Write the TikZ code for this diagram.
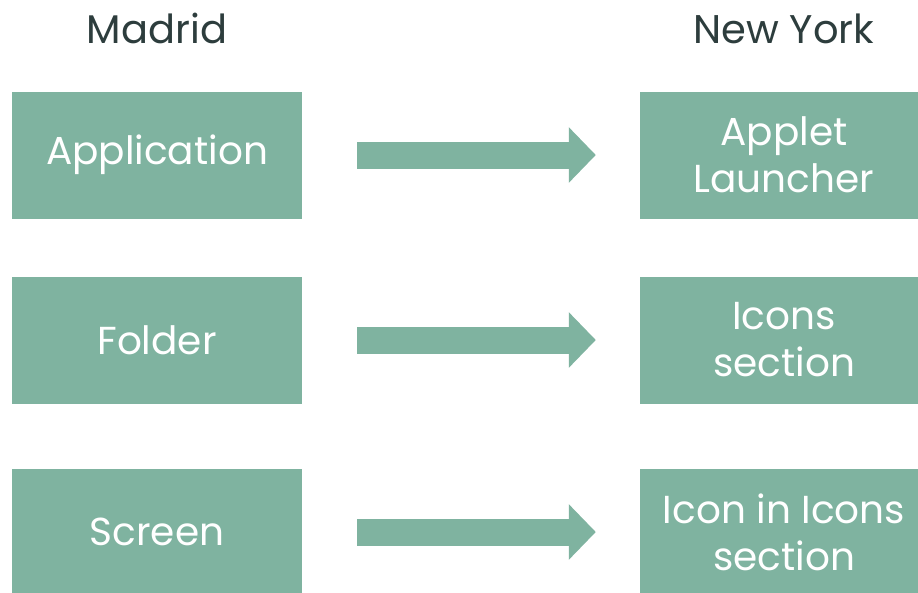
\documentclass[tikz,border=0pt]{standalone}
\usepackage{fontspec}
\setmainfont{Poppins}
\usepackage{xcolor}
\usetikzlibrary{arrows.meta,positioning}
\definecolor{BoxGreen}{HTML}{7FB3A0}
\definecolor{TitleGray}{HTML}{2D3D3D}

\begin{document}
\begin{tikzpicture}[
      x=1pt,y=-1pt,
      cityhead/.style={text=TitleGray,anchor=base,font=\fontsize{40}{48}\selectfont},
      leftbox/.style={fill=BoxGreen,text=white,minimum width=290pt,minimum height=127pt,align=center,inner sep=0pt,font=\fontsize{39}{47}\selectfont},
      rightbox/.style={leftbox,minimum width=288pt},
      maparr/.style={draw=BoxGreen,line width=27pt,-{Triangle[length=27pt,width=54pt]},shorten <=55pt,shorten >=44pt}
    ]
      \clip (0,0) rectangle (918,592);
      \node[cityhead] (madrid) at (157,43) {Madrid};
      \node[cityhead] (newyork) at (784,43) {New York};
      \node[leftbox] (app) at (157,155) {Application};
      \node[leftbox] (folder) at (157,340) {Folder};
      \node[leftbox] (screen) at (157,532) {Screen};
      \node[rightbox] (applet) at (784,155) {Applet\\Launcher};
      \node[rightbox] (icons) at (784,340) {Icons\\section};
      \node[rightbox] (iconin) at (784,532) {Icon in Icons\\section};
      \draw[maparr] (app) -- (applet);
      \draw[maparr] (folder) -- (icons);
      \draw[maparr] (screen) -- (iconin);
    \end{tikzpicture}
\end{document}
